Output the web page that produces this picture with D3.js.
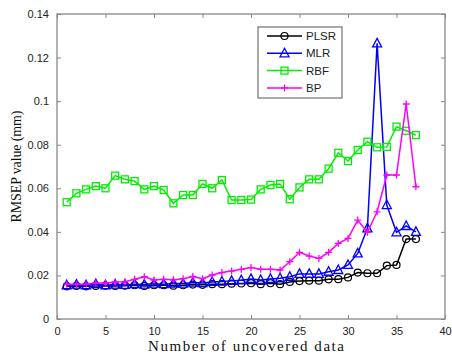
<!DOCTYPE html>
<html>
<head>
<meta charset="utf-8">
<script src="https://cdn.jsdelivr.net/npm/d3@7"></script>
<style>
  body { margin: 0; background: #fff; }
  svg { display: block; }
</style>
</head>
<body>
<div id="chart"></div>
<script>
  // data
  var xValues = d3.range(1, 38);
  var plsr = [0.0150, 0.0152, 0.0150, 0.0152, 0.0153, 0.0152, 0.0153, 0.0155, 0.0152, 0.0155,
      0.0155, 0.0153, 0.0155, 0.0158, 0.0157, 0.0160, 0.0160, 0.0162, 0.0163, 0.0164,
      0.0160, 0.0164, 0.0160, 0.0170, 0.0174, 0.0176, 0.0176, 0.0182, 0.0183, 0.0191,
      0.0213, 0.0210, 0.0210, 0.0245, 0.0248, 0.0367, 0.0367];
  var mlr = [0.0155, 0.0158, 0.0155, 0.0160, 0.0155, 0.0158, 0.0157, 0.0160, 0.0158, 0.0162,
      0.0160, 0.0163, 0.0162, 0.0167, 0.0165, 0.0170, 0.0172, 0.0175, 0.0178, 0.0184,
      0.0179, 0.0184, 0.0187, 0.0194, 0.0207, 0.0207, 0.0207, 0.0217, 0.0225, 0.0248,
      0.0301, 0.0416, 0.1265, 0.0523, 0.0398, 0.0427, 0.0400];
  var rbf = [0.0536, 0.0577, 0.0595, 0.0610, 0.0600, 0.0658, 0.0641, 0.0633, 0.0595, 0.0610,
      0.0592, 0.0531, 0.0569, 0.0569, 0.0620, 0.0600, 0.0638, 0.0546, 0.0546, 0.0548,
      0.0595, 0.0615, 0.0620, 0.0550, 0.0604, 0.0641, 0.0641, 0.0690, 0.0763, 0.0725,
      0.0776, 0.0814, 0.0788, 0.0790, 0.0883, 0.0864, 0.0844];
  var bp = [0.0160, 0.0160, 0.0160, 0.0165, 0.0165, 0.0170, 0.0171, 0.0182, 0.0194, 0.0179,
      0.0182, 0.0180, 0.0185, 0.0195, 0.0185, 0.0202, 0.0213, 0.0220, 0.0228, 0.0236,
      0.0228, 0.0228, 0.0225, 0.0263, 0.0306, 0.0289, 0.0278, 0.0306, 0.0347, 0.0370,
      0.0454, 0.0398, 0.0492, 0.0661, 0.0661, 0.0987, 0.0607];
  var seriesNames = ['PLSR', 'MLR', 'RBF', 'BP'];
  var xTicks = [0, 5, 10, 15, 20, 25, 30, 35, 40];
  var yTicks = [0, 0.02, 0.04, 0.06, 0.08, 0.1, 0.12, 0.14];

  var width = 452, height = 355;
  var margin = { top: 14, right: 7, bottom: 36, left: 57 };
  var w = width - margin.left - margin.right;
  var h = height - margin.top - margin.bottom;

  var svg = d3.select('#chart').append('svg')
      .attr('width', width)
      .attr('height', height);
  var g = svg.append('g')
      .attr('transform', 'translate(' + margin.left + ',' + margin.top + ')');

  var x = d3.scaleLinear().domain([0, 40]).range([0, w]);
  var y = d3.scaleLinear().domain([0, 0.14]).range([h, 0]);

  var axisColor = '#888';
  var tickFont = '"Liberation Sans", Arial, sans-serif';

  // frame
  g.append('rect')
      .attr('width', w).attr('height', h)
      .attr('fill', '#fff')
      .attr('stroke', axisColor)
      .attr('stroke-width', 1.3);

  function styleAxis(sel, showText) {
      sel.select('.domain').remove();
      sel.selectAll('.tick line').attr('stroke', axisColor).attr('stroke-width', 1);
      sel.selectAll('.tick text')
          .attr('fill', '#222')
          .style('font-family', tickFont)
          .style('font-size', '11px');
      if (!showText) sel.selectAll('.tick text').remove();
  }

  // bottom / top
  g.append('g')
      .attr('transform', 'translate(0,' + h + ')')
      .call(d3.axisBottom(x).tickValues(xTicks).tickSize(-4).tickPadding(8).tickFormat(d3.format('d')))
      .call(styleAxis, true);
  g.append('g')
      .call(d3.axisTop(x).tickValues(xTicks).tickSize(-4))
      .call(styleAxis, false);
  // left / right
  g.append('g')
      .call(d3.axisLeft(y).tickValues(yTicks).tickSize(-4).tickPadding(8).tickFormat(function(d) { return d3.format('')(+d.toFixed(2)); }))
      .call(styleAxis, true);
  g.append('g')
      .attr('transform', 'translate(' + w + ',0)')
      .call(d3.axisRight(y).tickValues(yTicks).tickSize(-4))
      .call(styleAxis, false);

  // axis titles
  svg.append('text')
      .attr('x', margin.left + w / 2 - 5)
      .attr('y', height - 4)
      .attr('text-anchor', 'middle')
      .attr('textLength', 196)
      .attr('lengthAdjust', 'spacing')
      .style('font-family', '"Liberation Serif", serif')
      .style('font-size', '15px')
      .attr('fill', '#111')
      .text('Number of uncovered data');
  svg.append('text')
      .attr('transform', 'translate(21,' + (margin.top + h / 2) + ') rotate(-90)')
      .attr('text-anchor', 'middle')
      .attr('textLength', 112)
      .attr('lengthAdjust', 'spacing')
      .style('font-family', '"Liberation Serif", serif')
      .style('font-size', '14px')
      .attr('fill', '#111')
      .text('RMSEP value (mm)');

  var series = [
      { name: 'PLSR', values: plsr, color: '#000000', marker: 'circle' },
      { name: 'MLR', values: mlr, color: '#0000ff', marker: 'triangle' },
      { name: 'RBF', values: rbf, color: '#00ee00', marker: 'square' },
      { name: 'BP', values: bp, color: '#ff00ff', marker: 'plus' }
  ];

  var line = d3.line()
      .x(function(d, i) { return x(xValues[i]); })
      .y(function(d) { return y(d); });

  function drawMarker(sel, type, color) {
      if (type === 'circle') {
          sel.append('circle').attr('r', 3.5)
              .attr('fill', 'none').attr('stroke', color).attr('stroke-width', 1.2);
      } else if (type === 'triangle') {
          sel.append('path').attr('d', 'M0,-5L4.5,3.5L-4.5,3.5Z')
              .attr('fill', 'none').attr('stroke', color).attr('stroke-width', 1.3);
      } else if (type === 'square') {
          sel.append('rect').attr('x', -3.5).attr('y', -3.5).attr('width', 7).attr('height', 7)
              .attr('fill', 'none').attr('stroke', color).attr('stroke-width', 1.3);
      } else {
          sel.append('path').attr('d', 'M-3.5,0H3.5M0,-3.5V3.5')
              .attr('fill', 'none').attr('stroke', color).attr('stroke-width', 1.3);
      }
  }

  // later series drawn on top, like the original plot
  var plot = g.append('g');
  series.forEach(function(s) {
      plot.append('path')
          .datum(s.values)
          .attr('fill', 'none')
          .attr('stroke', s.color)
          .attr('stroke-width', 1.5)
          .attr('d', line);
      plot.selectAll('.m-' + s.name)
          .data(s.values)
          .enter().append('g')
          .attr('class', 'm-' + s.name)
          .attr('transform', function(d, i) { return 'translate(' + x(xValues[i]) + ',' + y(d) + ')'; })
          .each(function() { drawMarker(d3.select(this), s.marker, s.color); });
  });

  // legend
  var legend = svg.append('g').attr('transform', 'translate(258,27)');
  legend.append('rect')
      .attr('width', 84).attr('height', 71)
      .attr('fill', '#fff')
      .attr('stroke', '#555')
      .attr('stroke-width', 1);
  series.forEach(function(s, i) {
      var row = legend.append('g').attr('transform', 'translate(0,' + (9 + i * 17.3) + ')');
      row.append('line')
          .attr('x1', 9).attr('x2', 44)
          .attr('stroke', s.color).attr('stroke-width', 1.5);
      drawMarker(row.append('g').attr('transform', 'translate(26.5,0)'), s.marker, s.color);
      row.append('text')
          .attr('x', 48).attr('y', 4)
          .style('font-family', tickFont)
          .style('font-size', '11.5px')
          .attr('fill', '#222')
          .text(s.name);
  });
</script>
</body>
</html>
